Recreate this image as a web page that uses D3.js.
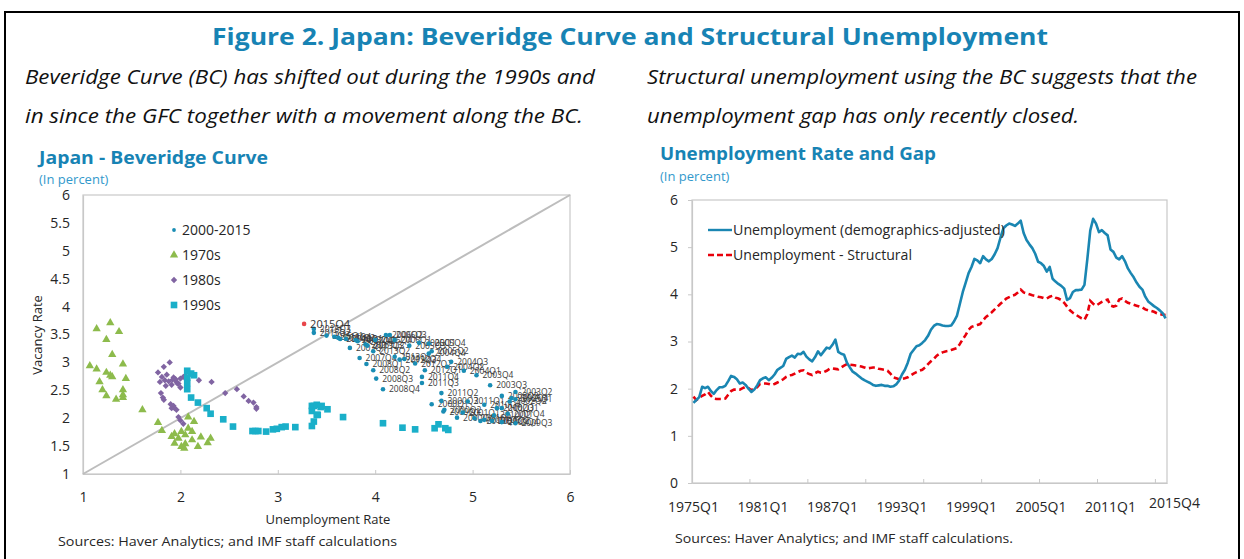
<!DOCTYPE html>
<html>
<head>
<meta charset="utf-8">
<script src="https://cdn.jsdelivr.net/npm/d3@7"></script>
<style>
body { margin: 0; background: #fff; }
svg { display: block; font-family: "Open Sans", sans-serif; }
</style>
</head>
<body>
<script>
// ---- left panel: Beveridge curve points (unemployment, vacancy) ----
var u1970s = [1.14,1.28,1.37,1.24,1.30,1.07,1.14,1.24,1.28,1.30,1.41,1.44,1.17,1.20,1.24,1.34,1.41,1.41,1.41,1.61,
              1.77,1.81,1.91,1.94,1.98,2.01,2.05,2.08,2.08,2.12,2.14,2.12,2.05,2.01,2.04,2.18,2.21,2.28,2.31,1.94]
var v1970s = [3.60,3.71,3.55,3.41,3.14,2.94,2.88,2.82,2.77,2.74,2.97,2.71,2.65,2.51,2.40,2.34,2.51,2.42,2.37,2.15,
              1.92,1.78,1.67,1.72,1.64,1.76,1.70,1.82,2.02,1.76,1.94,1.61,1.54,1.49,1.46,1.49,1.66,1.56,1.64,1.55]

var u1980s = [1.89,1.83,1.77,1.81,1.79,1.84,1.93,1.96,1.91,2.00,2.00,2.03,1.95,1.98,1.88,1.86,2.19,2.32,1.80,1.82,
              1.83,1.93,1.94,1.96,1.91,1.98,2.00,2.03,2.46,2.58,2.65,2.70,2.75,2.78,2.78,1.90,1.97,2.05,1.85,1.92]
var v1980s = [3.00,2.92,2.82,2.74,2.65,2.68,2.73,2.65,2.60,2.55,2.71,2.74,2.70,2.62,2.66,2.78,2.68,2.65,2.45,2.37,
              2.33,2.22,2.18,2.15,2.18,2.02,1.96,1.90,2.45,2.52,2.39,2.31,2.28,2.20,2.17,2.25,2.62,2.76,2.58,2.69]

var u1990s = [2.07,2.11,2.14,2.07,2.07,2.07,2.11,2.18,2.27,2.31,2.44,2.54,2.74,2.77,2.80,2.88,2.95,2.99,3.04,3.08,
              3.18,3.35,3.37,3.41,3.35,3.35,3.37,3.45,3.51,3.40,3.44,3.40,3.67,4.08,4.28,4.41,4.61,4.65,4.72,4.75]
var v1990s = [2.85,2.80,2.77,2.73,2.63,2.52,2.37,2.28,2.18,2.08,1.98,1.85,1.77,1.77,1.77,1.76,1.80,1.81,1.84,1.85,
              1.84,1.86,1.94,2.06,2.13,2.22,2.22,2.22,2.16,2.24,2.20,2.06,2.02,1.91,1.83,1.80,1.82,1.89,1.82,1.79]

var bcYears = [2000,2001,2002,2003,2004,2005,2006,2007,2008,2009,2010,2011,2012,2013,2014,2015]
var uRecent = [4.58,4.71,4.68,4.84, 4.90,5.02,5.12,5.36, 5.30,5.38,5.30,5.40, 5.44,5.44,5.18,5.04,
               4.91,4.74,4.78,4.55, 4.45,4.58,4.35,4.55, 4.20,4.11,4.15,4.00, 3.74,3.82,3.90,3.84,
               3.91,3.98,4.01,4.08, 4.70,5.20,5.44,5.30, 5.08,5.22,5.25,5.12, 4.95,4.68,4.48,4.48,
               4.51,4.41,4.25,4.30, 4.20,3.98,3.92,3.80, 3.70,3.62,3.64,3.58, 3.50,3.37,3.37,3.27]
var vRecent = [2.25,2.15,2.31,2.01, 2.10,2.00,1.97,2.08, 2.18,2.30,2.40,2.36, 2.34,2.47,2.59,2.77,
               2.85,2.92,3.01,3.16, 3.35,3.20,3.30,3.34, 3.40,3.49,3.49,3.40, 3.26,3.38,3.32,3.08,
               2.97,2.86,2.71,2.52, 2.12,1.95,1.91,1.93, 1.95,2.05,2.18,2.24, 2.30,2.45,2.63,2.74,
               2.86,2.98,3.05,3.06, 3.10,3.20,3.30,3.40, 3.42,3.44,3.42,3.46, 3.48,3.53,3.60,3.69]

var bcTicks = [1,1.5,2,2.5,3,3.5,4,4.5,5,5.5,6]
var bcXTicks = [1,2,3,4,5,6]

// ---- right panel: unemployment rate and structural rate, 1975Q1-2015Q4 ----
var firstYear = 1975, lastYear = 2015
var unempAdj = [1.70,1.76,1.82,2.04, 2.01,2.04,1.95,1.89, 1.97,2.03,2.03,2.06, 2.16,2.27,2.25,2.20,
                2.11,2.13,2.08,2.00, 1.93,1.98,2.07,2.18, 2.22,2.24,2.18,2.23, 2.30,2.40,2.44,2.48,
                2.63,2.67,2.70,2.66, 2.74,2.73,2.78,2.68, 2.62,2.58,2.67,2.79, 2.71,2.79,2.87,2.85,
                2.93,3.04,2.78,2.74, 2.72,2.55,2.45,2.36, 2.32,2.27,2.22,2.18, 2.15,2.12,2.08,2.06,
                2.07,2.08,2.06,2.06, 2.04,2.05,2.09,2.17, 2.30,2.40,2.55,2.74, 2.82,2.90,2.92,2.97,
                3.03,3.12,3.25,3.33, 3.37,3.36,3.34,3.33, 3.33,3.34,3.43,3.55, 3.80,4.05,4.25,4.45,
                4.58,4.75,4.72,4.66, 4.81,4.74,4.70,4.75, 4.85,4.98,5.20,5.40, 5.46,5.50,5.48,5.45,
                5.50,5.56,5.30,5.15, 5.06,4.98,4.86,4.69, 4.66,4.60,4.48,4.58, 4.33,4.27,4.22,4.18,
                4.12,3.88,3.92,4.05, 4.09,4.09,4.10,4.20, 4.75,5.35,5.60,5.50, 5.32,5.36,5.30,5.25,
                4.95,4.90,4.78,4.74, 4.81,4.70,4.55,4.45, 4.36,4.25,4.16,4.10, 3.95,3.85,3.80,3.75,
                3.71,3.66,3.60,3.49]
var unempStruct = [1.83,1.76,1.80,1.85, 1.88,1.93,1.85,1.79, 1.78,1.78,1.78,1.79, 1.87,1.95,1.98,1.98,
                   1.98,2.01,2.04,2.01, 1.97,2.00,2.03,2.10, 2.11,2.11,2.10,2.08, 2.10,2.13,2.16,2.20,
                   2.25,2.28,2.29,2.32, 2.35,2.38,2.39,2.34, 2.31,2.29,2.33,2.36, 2.34,2.35,2.38,2.42,
                   2.43,2.42,2.41,2.45, 2.49,2.52,2.51,2.50, 2.49,2.48,2.47,2.45, 2.43,2.44,2.45,2.45,
                   2.42,2.41,2.40,2.38, 2.32,2.24,2.22,2.20, 2.21,2.22,2.24,2.28, 2.32,2.35,2.38,2.40,
                   2.45,2.52,2.58,2.63, 2.70,2.74,2.77,2.79, 2.80,2.82,2.84,2.86, 2.95,3.05,3.14,3.25,
                   3.31,3.33,3.35,3.37, 3.45,3.52,3.57,3.62, 3.68,3.74,3.80,3.85, 3.91,3.94,3.97,3.99,
                   4.04,4.10,4.04,4.02, 4.00,3.98,3.97,3.95, 3.94,3.92,3.91,3.95, 3.97,3.93,3.91,3.88,
                   3.82,3.74,3.66,3.61, 3.57,3.53,3.49,3.46, 3.58,3.86,3.80,3.76, 3.80,3.84,3.87,3.89,
                   3.76,3.74,3.76,3.89, 3.91,3.86,3.82,3.80, 3.78,3.76,3.74,3.72, 3.68,3.66,3.65,3.63,
                   3.60,3.58,3.57,3.56]
var gapYTicks = [0,1,2,3,4,5,6]

var quarterNames = function(y0, y1)
{
    var out = []
    for (var y = y0; y <= y1; y++)
        for (var q = 1; q <= 4; q++) out.push(y + "Q" + q)
    return out
}
var bcQuarters = quarterNames(bcYears[0], bcYears[bcYears.length-1])
var gapQuarters = quarterNames(firstYear, lastYear)

var zip = function(xs, ys) { return xs.map(function(x,i){ return {u: x, v: ys[i]} }) }

var svg = d3.select("body").append("svg")
    .attr("width", 1244)
    .attr("height", 559)

svg.append("rect").attr("width",1244).attr("height",559).attr("fill","#fff")

// frame
svg.append("path")
    .attr("d", "M5,559 V12 H1239 V559")
    .attr("fill","none").attr("stroke","#000").attr("stroke-width",2)

var blue = "#1783B4"
var textCol = "#262626"

// header texts
svg.append("text").attr("x",212).attr("y",45)
    .attr("font-size",24).attr("font-weight","bold").attr("fill",blue)
    .attr("textLength",836).attr("lengthAdjust","spacingAndGlyphs")
    .text("Figure 2. Japan: Beveridge Curve and Structural Unemployment")

var subs = [
    {x:25,  y:84,  w:570, t:"Beveridge Curve (BC) has shifted out during the 1990s and"},
    {x:25,  y:123, w:558, t:"in since the GFC together with a movement along the BC."},
    {x:647, y:84,  w:550, t:"Structural unemployment using the BC suggests that the"},
    {x:647, y:123, w:432, t:"unemployment gap has only recently closed."}
]
svg.selectAll("text.sub").data(subs).enter().append("text")
    .attr("class","sub")
    .attr("x", function(d){return d.x}).attr("y", function(d){return d.y})
    .attr("font-size",20).attr("font-style","italic").attr("fill","#111")
    .attr("textLength", function(d){return d.w}).attr("lengthAdjust","spacingAndGlyphs")
    .text(function(d){return d.t})

// ================= left chart =================
var xL = d3.scaleLinear().domain([1,6]).range([83,570])
var yL = d3.scaleLinear().domain([1,6]).range([474,195])

svg.append("text").attr("x",39).attr("y",164)
    .attr("font-size",18).attr("font-weight","bold").attr("fill",blue)
    .attr("textLength",229).attr("lengthAdjust","spacingAndGlyphs")
    .text("Japan - Beveridge Curve")
svg.append("text").attr("x",39).attr("y",184)
    .attr("font-size",13).attr("fill","#3399CC")
    .text("(In percent)")

svg.append("rect")
    .attr("x",xL(1)).attr("y",yL(6))
    .attr("width",xL(6)-xL(1)).attr("height",yL(1)-yL(6))
    .attr("fill","none").attr("stroke","#C8C8C8").attr("stroke-width",1.2)

var lAxisX = svg.append("g")
    .attr("transform","translate(0,"+yL(1)+")")
    .call(d3.axisBottom(xL).tickValues(bcXTicks).tickFormat(d3.format("d"))
          .tickSizeInner(-4).tickSizeOuter(0).tickPadding(18))
var lAxisY = svg.append("g")
    .attr("transform","translate("+xL(1)+",0)")
    .call(d3.axisLeft(yL).tickValues(bcTicks).tickFormat(function(d){return d})
          .tickSizeInner(0).tickSizeOuter(0).tickPadding(13))
;[lAxisX, lAxisY].forEach(function(g)
{
    g.select(".domain").attr("stroke","#C8C8C8").attr("stroke-width",1.2)
    g.selectAll(".tick line").attr("stroke","#C8C8C8")
    g.selectAll("text").attr("font-size",14).attr("fill",textCol).attr("font-family","Open Sans")
})

svg.append("text").attr("x",328).attr("y",524)
    .attr("text-anchor","middle").attr("font-size",13).attr("fill",textCol)
    .text("Unemployment Rate")
svg.append("text")
    .attr("transform","translate(42,335) rotate(-90)")
    .attr("text-anchor","middle").attr("font-size",13).attr("fill",textCol)
    .text("Vacancy Rate")
svg.append("text").attr("x",58).attr("y",546)
    .attr("font-size",13).attr("fill",textCol)
    .attr("textLength",339).attr("lengthAdjust","spacingAndGlyphs")
    .text("Sources: Haver Analytics; and IMF staff calculations")

// 45 degree line
svg.append("line")
    .attr("x1",xL(1)).attr("y1",yL(1)).attr("x2",xL(6)).attr("y2",yL(6))
    .attr("stroke","#BDBDBD").attr("stroke-width",2)

var plot = svg.append("g").attr("id","scatter")

var green = "#8DBB4C", purple = "#8064A2", cyan = "#1AAFC9", teal = "#1A8DB4"

plot.selectAll("path.tri").data(zip(u1970s, v1970s)).enter().append("path")
    .attr("class","tri")
    .attr("d", d3.symbol().type(d3.symbolTriangle).size(30))
    .attr("transform", function(d){return "translate("+xL(d.u)+","+yL(d.v)+")"})
    .attr("fill", green)

plot.selectAll("path.dia").data(zip(u1980s, v1980s)).enter().append("path")
    .attr("class","dia")
    .attr("d", d3.symbol().type(d3.symbolSquare).size(20))
    .attr("transform", function(d){return "translate("+xL(d.u)+","+yL(d.v)+") rotate(45)"})
    .attr("fill", purple)

plot.selectAll("path.sq").data(zip(u1990s, v1990s)).enter().append("path")
    .attr("class","sq")
    .attr("d", d3.symbol().type(d3.symbolSquare).size(44))
    .attr("transform", function(d){return "translate("+xL(d.u)+","+yL(d.v)+")"})
    .attr("fill", cyan)

var recent = zip(uRecent, vRecent).map(function(d,i){ d.q = bcQuarters[i]; return d })
var last = recent.length - 1

plot.selectAll("text.ql").data(recent.slice(0,last)).enter().append("text")
    .attr("class","ql")
    .attr("x", function(d){return xL(d.u)+6})
    .attr("y", function(d){return yL(d.v)+3})
    .attr("font-size",8.5).attr("fill","#3a3a3a")
    .text(function(d){return d.q})

plot.selectAll("circle.dot").data(recent).enter().append("circle")
    .attr("class","dot")
    .attr("cx", function(d){return xL(d.u)})
    .attr("cy", function(d){return yL(d.v)})
    .attr("r", 2.3)
    .attr("fill", function(d,i){return i == last ? "#E8464A" : teal})

plot.append("text")
    .attr("x", xL(recent[last].u)+6).attr("y", yL(recent[last].v)+4)
    .attr("font-size",11).attr("fill","#333")
    .text(recent[last].q)

// legend left
var legL = [
    {label:"2000-2015", kind:"dot"},
    {label:"1970s", kind:"tri"},
    {label:"1980s", kind:"dia"},
    {label:"1990s", kind:"sq"}
]
var legY = [230, 255, 280, 305]
var lg = svg.append("g").selectAll("g").data(legL).enter().append("g")
    .attr("transform", function(d,i){return "translate(174,"+legY[i]+")"})
lg.each(function(d)
{
    var g = d3.select(this)
    if (d.kind == "dot") g.append("circle").attr("r",1.9).attr("fill",teal)
    if (d.kind == "tri") g.append("path").attr("d",d3.symbol().type(d3.symbolTriangle).size(30)).attr("fill",green)
    if (d.kind == "dia") g.append("path").attr("d",d3.symbol().type(d3.symbolSquare).size(20)).attr("transform","rotate(45)").attr("fill",purple)
    if (d.kind == "sq")  g.append("path").attr("d",d3.symbol().type(d3.symbolSquare).size(44)).attr("fill",cyan)
})
lg.append("text").attr("x",8).attr("y",5)
    .attr("font-size",14).attr("fill",textCol)
    .text(function(d){return d.label})

// ================= right chart =================
var xR = d3.scaleBand().domain(gapQuarters).range([692,1167])
var bw = xR.bandwidth()
var yR = d3.scaleLinear().domain([0,6]).range([483,200])

svg.append("text").attr("x",660).attr("y",160)
    .attr("font-size",18).attr("font-weight","bold").attr("fill",blue)
    .attr("textLength",276).attr("lengthAdjust","spacingAndGlyphs")
    .text("Unemployment Rate and Gap")
svg.append("text").attr("x",660).attr("y",181)
    .attr("font-size",13).attr("fill","#3399CC")
    .text("(In percent)")

svg.append("rect")
    .attr("x",692).attr("y",yR(6))
    .attr("width",1167-692).attr("height",yR(0)-yR(6))
    .attr("fill","none").attr("stroke","#C8C8C8").attr("stroke-width",1.2)

var rAxisY = svg.append("g")
    .attr("transform","translate(692,0)")
    .call(d3.axisLeft(yR).tickValues(gapYTicks).tickFormat(d3.format("d"))
          .tickSizeInner(4).tickSizeOuter(0).tickPadding(10))

var tickQ = gapQuarters.filter(function(q,i){return i > 0 && i % 20 == 0})
var rAxisX = svg.append("g")
    .attr("transform","translate(0,"+yR(0)+")")
    .call(d3.axisBottom(xR).tickValues(tickQ).tickFormat("")
          .tickSizeInner(-4).tickSizeOuter(0))
rAxisX.selectAll(".tick").attr("transform", function(q){return "translate("+xR(q)+",0)"})

;[rAxisX, rAxisY].forEach(function(g)
{
    g.select(".domain").attr("stroke","#C8C8C8").attr("stroke-width",1.2)
    g.selectAll(".tick line").attr("stroke","#C8C8C8")
    g.selectAll("text").attr("font-size",14).attr("fill",textCol).attr("font-family","Open Sans")
})

var labelQ = gapQuarters.filter(function(q,i){return i % 24 == 0})
svg.append("g").selectAll("text").data(labelQ).enter().append("text")
    .attr("x", function(q){return xR(q)+bw/2})
    .attr("y", 512)
    .attr("text-anchor","middle").attr("font-size",14).attr("fill",textCol)
    .text(function(q){return q})
svg.append("text")
    .attr("x", xR(gapQuarters[gapQuarters.length-1])-15).attr("y",508)
    .attr("font-size",14).attr("fill",textCol)
    .text(gapQuarters[gapQuarters.length-1])

svg.append("text").attr("x",675).attr("y",543)
    .attr("font-size",13).attr("fill",textCol)
    .attr("textLength",338).attr("lengthAdjust","spacingAndGlyphs")
    .text("Sources: Haver Analytics; and IMF staff calculations.")

var line = d3.line()
    .x(function(d,i){return xR(gapQuarters[i])+bw/2})
    .y(function(d){return yR(d)})

var lineBlue = "#1A86B2", lineRed = "#E8000B"

svg.append("path").datum(unempStruct)
    .attr("d", line).attr("fill","none")
    .attr("stroke", lineRed).attr("stroke-width",2.6).attr("stroke-dasharray","6,3.5")
svg.append("path").datum(unempAdj)
    .attr("d", line).attr("fill","none")
    .attr("stroke", lineBlue).attr("stroke-width",2.6).attr("stroke-linejoin","round")

// legend right
var legR = [
    {label:"Unemployment (demographics-adjusted)", color:lineBlue, dash:null, w:272},
    {label:"Unemployment - Structural", color:lineRed, dash:"6,3", w:179}
]
var lr = svg.append("g").selectAll("g").data(legR).enter().append("g")
    .attr("transform", function(d,i){return "translate(708,"+(230+i*25)+")"})
lr.append("line").attr("x1",0).attr("x2",24)
    .attr("stroke", function(d){return d.color}).attr("stroke-width",2.4)
    .attr("stroke-dasharray", function(d){return d.dash})
lr.append("text").attr("x",25).attr("y",5)
    .attr("font-size",14).attr("fill",textCol)
    .attr("textLength", function(d){return d.w}).attr("lengthAdjust","spacingAndGlyphs")
    .text(function(d){return d.label})
</script>
</body>
</html>
